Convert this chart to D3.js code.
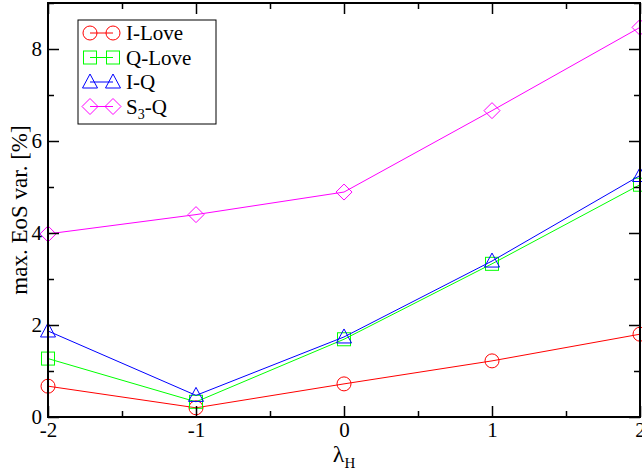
<!DOCTYPE html>
<html lang="en">
<head>
<meta charset="UTF-8">
<title>max EoS variation</title>
<script src="https://cdn.jsdelivr.net/npm/d3@7"></script>
<style>
  body { margin: 0; background: #fff; }
  svg { display: block; font-family: "Liberation Serif", "DejaVu Serif", serif; }
</style>
</head>
<body>
<svg id="chart" width="642" height="475"></svg>
<script>
// data
const lambdaH = [-2, -1, 0, 1, 2];
const iLove  = [0.67, 0.20, 0.72, 1.22, 1.80];
const qLove  = [1.27, 0.33, 1.69, 3.33, 5.05];
const iQ     = [1.87, 0.47, 1.74, 3.39, 5.25];
const s3Q    = [3.98, 4.40, 4.89, 6.66, 8.47];
const seriesNames = ["I-Love", "Q-Love", "I-Q", "S3-Q"];
const xTicks = [-2, -1, 0, 1, 2];
const yTicks = [0, 2, 4, 6, 8];

const W = 642, H = 475;
const pLeft = 48, pRight = 640, pTop = 3, pBottom = 417;

const svg = d3.select("#chart");

const x = d3.scaleLinear().domain([-2, 2]).range([pLeft, pRight]);
const y = d3.scaleLinear().domain([0, 9]).range([pBottom, pTop]);

const series = [
  { name: seriesNames[0], vals: iLove, color: "#ff0000", sym: "circle" },
  { name: seriesNames[1], vals: qLove, color: "#00ff00", sym: "square" },
  { name: seriesNames[2], vals: iQ,    color: "#0000ff", sym: "triangle" },
  { name: seriesNames[3], vals: s3Q,   color: "#ff00ff", sym: "diamond" }
];

function marker(g, sym, color) {
  if (sym === "circle") {
    g.append("circle").attr("r", 7);
  } else if (sym === "square") {
    g.append("rect").attr("x", -6.5).attr("y", -6.5).attr("width", 13).attr("height", 13);
  } else if (sym === "triangle") {
    g.append("path").attr("d", "M0,-8L7.5,6L-7.5,6Z");
  } else {
    g.append("path").attr("d", "M0,-8L8,0L0,8L-8,0Z");
  }
  g.selectAll("*").attr("fill", "none").attr("stroke", color).attr("stroke-width", 1);
}

// lines + markers
const line = d3.line().x((d, i) => x(lambdaH[i])).y(d => y(d));
series.forEach(s => {
  svg.append("path").datum(s.vals)
    .attr("d", line)
    .attr("fill", "none")
    .attr("stroke", s.color)
    .attr("stroke-width", 1);
  s.vals.forEach((v, i) => {
    const g = svg.append("g").attr("transform", `translate(${x(lambdaH[i])},${y(v)})`);
    marker(g, s.sym, s.color);
  });
});

// axes: inward ticks on all sides
function styleAxis(g) {
  g.select(".domain").remove();
  g.selectAll(".tick line").attr("stroke", "#000").attr("stroke-width", 1.5);
  g.selectAll("text").attr("font-size", 21).attr("fill", "#000")
    .attr("font-family", "Liberation Serif, serif");
}
const fmt = d => String(d);   // plain hyphen for negatives
const xMinor = [-1.5, -0.5, 0.5, 1.5];
const yMinor = [1, 3, 5, 7, 9];

svg.append("g").attr("transform", `translate(0,${pBottom})`)
  .call(d3.axisBottom(x).tickValues(xTicks).tickSize(-11).tickPadding(5).tickFormat(fmt))
  .call(styleAxis);
svg.append("g").attr("transform", `translate(0,${pBottom})`)
  .call(d3.axisBottom(x).tickValues(xMinor).tickSize(-6).tickFormat(""))
  .call(styleAxis);
svg.append("g").attr("transform", `translate(0,${pTop})`)
  .call(d3.axisTop(x).tickValues(xTicks).tickSize(-11).tickFormat(""))
  .call(styleAxis);
svg.append("g").attr("transform", `translate(0,${pTop})`)
  .call(d3.axisTop(x).tickValues(xMinor).tickSize(-6).tickFormat(""))
  .call(styleAxis);

svg.append("g").attr("transform", `translate(${pLeft},0)`)
  .call(d3.axisLeft(y).tickValues(yTicks).tickSize(-11).tickPadding(6).tickFormat(fmt))
  .call(styleAxis);
svg.append("g").attr("transform", `translate(${pLeft},0)`)
  .call(d3.axisLeft(y).tickValues(yMinor).tickSize(-6).tickFormat(""))
  .call(styleAxis);
svg.append("g").attr("transform", `translate(${pRight},0)`)
  .call(d3.axisRight(y).tickValues(yTicks).tickSize(-11).tickFormat(""))
  .call(styleAxis);
svg.append("g").attr("transform", `translate(${pRight},0)`)
  .call(d3.axisRight(y).tickValues(yMinor).tickSize(-6).tickFormat(""))
  .call(styleAxis);

// frame
svg.append("rect")
  .attr("x", pLeft).attr("y", pTop)
  .attr("width", pRight - pLeft).attr("height", pBottom - pTop)
  .attr("fill", "none").attr("stroke", "#000").attr("stroke-width", 2);

// axis titles
const xt = svg.append("text")
  .attr("x", x(0)).attr("y", 462)
  .attr("text-anchor", "middle").attr("font-size", 24);
xt.append("tspan").text("λ");
xt.append("tspan").attr("font-size", 15).attr("dy", 6).text("H");

svg.append("text")
  .attr("transform", `translate(27,${(pTop + pBottom) / 2}) rotate(-90)`)
  .attr("text-anchor", "middle").attr("font-size", 23)
  .text("max. EoS var. [%]");

// legend
const lg = svg.append("g");
lg.append("rect")
  .attr("x", 78).attr("y", 20).attr("width", 138).attr("height", 104)
  .attr("fill", "#fff").attr("stroke", "#000").attr("stroke-width", 1);
series.forEach((s, i) => {
  const yy = 33 + i * 24.5;
  lg.append("line").attr("x1", 90).attr("x2", 113).attr("y1", yy).attr("y2", yy)
    .attr("stroke", s.color).attr("stroke-width", 1);
  marker(lg.append("g").attr("transform", `translate(90,${yy})`), s.sym, s.color);
  marker(lg.append("g").attr("transform", `translate(113,${yy})`), s.sym, s.color);
  const t = lg.append("text").attr("x", 126).attr("y", yy + 7).attr("font-size", 21);
  if (s.name === "S3-Q") {
    t.append("tspan").text("S");
    t.append("tspan").attr("font-size", 14).attr("dy", 5).text("3");
    t.append("tspan").attr("dy", -5).text("-Q");
  } else {
    t.text(s.name);
  }
});
</script>
</body>
</html>
